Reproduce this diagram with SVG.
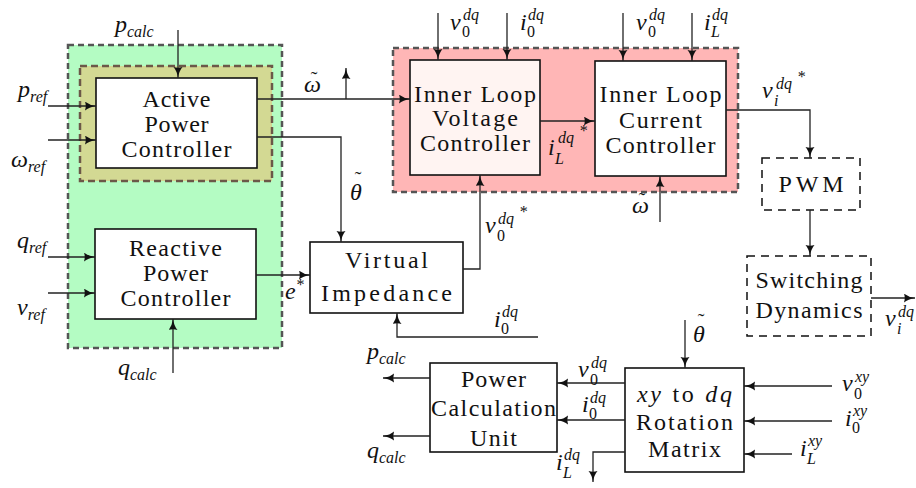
<svg xmlns="http://www.w3.org/2000/svg" width="916" height="488" viewBox="0 0 916 488">
  <style>
    .blk { fill: #ffffff; stroke: #111; stroke-width: 1.6; }
    .dash { fill: #ffffff; stroke: #111; stroke-width: 1.5; stroke-dasharray: 8 6; }
    .lbl { font-family: "Liberation Serif", "DejaVu Serif", serif; font-size: 24px; fill: #111; text-anchor: middle; }
    .m { font-family: "Liberation Serif", "DejaVu Serif", serif; font-style: italic; font-size: 24px; fill: #111; }
    .s { font-size: 16px; }
    .tl { font-size: 20px; font-style: normal; }
    .w { fill: none; stroke: #222; stroke-width: 1.3; }
    .a { marker-end: url(#arr); }
  </style>
  <defs>
    <marker id="arr" markerUnits="userSpaceOnUse" markerWidth="12" markerHeight="10" refX="11" refY="4.5" orient="auto">
      <path d="M0,0 Q4,3.5 11,4.5 Q4,5.5 0,9 Q1.5,4.5 0,0 z" fill="#111"/>
    </marker>
  </defs>

  <rect width="916" height="488" fill="#ffffff"/>

  <!-- grouping regions -->
  <g id="power-sharing">
    <rect x="68" y="45" width="214" height="303" fill="#b4fcc3" stroke="#555" stroke-width="2.5" stroke-dasharray="6 4"/>
    <rect x="80" y="66" width="192" height="115" fill="#d3d993" stroke="#6b5848" stroke-width="2.5" stroke-dasharray="7 4"/>
  </g>
  <g id="inner-loops">
    <rect x="393" y="48" width="345" height="144" fill="#ffb6b6" stroke="#555" stroke-width="2.5" stroke-dasharray="6 4"/>
  </g>

  <!-- blocks -->
  <g id="active-power">
    <rect class="blk" x="96" y="78" width="161" height="90"/>
    <text class="lbl" x="176.5" y="107" textLength="68" lengthAdjust="spacing">Active</text>
    <text class="lbl" x="176.5" y="132" textLength="64" lengthAdjust="spacing">Power</text>
    <text class="lbl" x="176.5" y="157" textLength="110" lengthAdjust="spacing">Controller</text>
  </g>
  <g id="reactive-power">
    <rect class="blk" x="95" y="229" width="161" height="90"/>
    <text class="lbl" x="175.5" y="256" textLength="93" lengthAdjust="spacing">Reactive</text>
    <text class="lbl" x="175.5" y="281" textLength="65" lengthAdjust="spacing">Power</text>
    <text class="lbl" x="175.5" y="306" textLength="110" lengthAdjust="spacing">Controller</text>
  </g>
  <g id="voltage-controller">
    <rect class="blk" x="410" y="60" width="130" height="115" style="fill:#fff4f2"/>
    <text class="lbl" x="475" y="102" textLength="122" lengthAdjust="spacing">Inner Loop</text>
    <text class="lbl" x="475" y="126" textLength="86" lengthAdjust="spacing">Voltage</text>
    <text class="lbl" x="475" y="151" textLength="110" lengthAdjust="spacing">Controller</text>
  </g>
  <g id="current-controller">
    <rect class="blk" x="595" y="61" width="131" height="115"/>
    <text class="lbl" x="660.5" y="102" textLength="122" lengthAdjust="spacing">Inner Loop</text>
    <text class="lbl" x="660.5" y="128" textLength="83" lengthAdjust="spacing">Current</text>
    <text class="lbl" x="660.5" y="153" textLength="110" lengthAdjust="spacing">Controller</text>
  </g>
  <g id="virtual-impedance">
    <rect class="blk" x="310" y="242" width="153" height="71"/>
    <text class="lbl" x="386.5" y="268" textLength="83" lengthAdjust="spacing">Virtual</text>
    <text class="lbl" x="386.5" y="301" textLength="131" lengthAdjust="spacing">Impedance</text>
  </g>
  <g id="pwm">
    <rect class="dash" x="762" y="158" width="98" height="52"/>
    <text class="lbl" x="811" y="192" textLength="65" lengthAdjust="spacing">PWM</text>
  </g>
  <g id="switching">
    <rect class="dash" x="747" y="256" width="124" height="80"/>
    <text class="lbl" x="809" y="288" textLength="107" lengthAdjust="spacing">Switching</text>
    <text class="lbl" x="809" y="318" textLength="107" lengthAdjust="spacing">Dynamics</text>
  </g>
  <g id="power-calculation">
    <rect class="blk" x="430" y="363" width="127" height="89"/>
    <text class="lbl" x="493.5" y="387" textLength="65" lengthAdjust="spacing">Power</text>
    <text class="lbl" x="493.5" y="416" textLength="125" lengthAdjust="spacing">Calculation</text>
    <text class="lbl" x="493.5" y="446" textLength="47" lengthAdjust="spacing">Unit</text>
  </g>
  <g id="rotation-matrix">
    <rect class="blk" x="625" y="368" width="119" height="104"/>
    <text class="lbl" x="684.5" y="402" textLength="95" lengthAdjust="spacing"><tspan font-style="italic">xy</tspan> to <tspan font-style="italic">dq</tspan></text>
    <text class="lbl" x="684.5" y="430" textLength="97" lengthAdjust="spacing">Rotation</text>
    <text class="lbl" x="684.5" y="457" textLength="73" lengthAdjust="spacing">Matrix</text>
  </g>

  <!-- connectors -->
  <g id="connectors">
    <path class="w a" d="M178,30 V78"/>
    <path class="w a" d="M48,106 H96"/>
    <path class="w a" d="M48,140 H96"/>
    <path class="w a" d="M257,99 H410"/>
    <path class="w a" d="M346,99 V68"/>
    <path class="w a" d="M257,137 H341 V242"/>
    <path class="w a" d="M48,257 H95"/>
    <path class="w a" d="M48,293 H95"/>
    <path class="w a" d="M173,373 V319"/>
    <path class="w a" d="M256,275 H310"/>
    <path class="w a" d="M463,269 H480 V175"/>
    <path class="w a" d="M538,337 H397 V313"/>
    <path class="w a" d="M438,13 V60"/>
    <path class="w a" d="M507,13 V60"/>
    <path class="w a" d="M540,121 H595"/>
    <path class="w a" d="M623,13 V61"/>
    <path class="w a" d="M692,13 V61"/>
    <path class="w a" d="M660,222 V176"/>
    <path class="w a" d="M726,110 H810 V158"/>
    <path class="w a" d="M810,210 V256"/>
    <path class="w a" d="M871,298 H915"/>
    <path class="w a" d="M685,320 V368"/>
    <path class="w a" d="M832,386 H744"/>
    <path class="w a" d="M832,421 H744"/>
    <path class="w a" d="M792,454 H744"/>
    <path class="w a" d="M625,383 H557"/>
    <path class="w a" d="M625,420 H557"/>
    <path class="w a" d="M625,452 H593 V482"/>
    <path class="w a" d="M430,378 H383"/>
    <path class="w a" d="M430,436 H383"/>
  </g>

  <!-- signal labels -->
  <g id="labels">
    <text class="m" x="115" y="32">p<tspan class="s" dy="5">calc</tspan></text>
    <text class="m" x="18" y="97">p<tspan class="s" dy="5">ref</tspan></text>
    <text class="m" x="11" y="167">ω<tspan class="s" dy="5">ref</tspan></text>

    <text class="m" x="304" y="92">ω<tspan class="tl" x="310.7" y="86">˜</tspan></text>
    <text class="m" x="350" y="200">θ<tspan class="tl" x="354.7" y="186">˜</tspan></text>
    <text class="m" x="632" y="213">ω<tspan class="tl" x="638.7" y="207">˜</tspan></text>
    <text class="m" x="693" y="342">θ<tspan class="tl" x="697.7" y="328">˜</tspan></text>

    <text class="m" x="17" y="248">q<tspan class="s" dy="5">ref</tspan></text>
    <text class="m" x="17" y="315">v<tspan class="s" dy="5">ref</tspan></text>
    <text class="m" x="118" y="375">q<tspan class="s" dy="5">calc</tspan></text>
    <text class="m" x="285" y="299">e<tspan class="s" dy="-9">*</tspan></text>

    <text class="m" x="450" y="30">v<tspan class="s" x="462" y="37" font-style="normal">0</tspan><tspan class="s" x="463" y="20">dq</tspan></text>
    <text class="m" x="520" y="30">i<tspan class="s" x="527" y="37" font-style="normal">0</tspan><tspan class="s" x="528" y="20">dq</tspan></text>
    <text class="m" x="636" y="30">v<tspan class="s" x="648" y="37" font-style="normal">0</tspan><tspan class="s" x="649" y="20">dq</tspan></text>
    <text class="m" x="704" y="30">i<tspan class="s" x="711" y="37">L</tspan><tspan class="s" x="712" y="20">dq</tspan></text>

    <text class="m" x="548" y="155">i<tspan class="s" x="555" y="164">L</tspan><tspan class="s" x="558" y="143">dq</tspan><tspan class="s" x="579" y="136" font-size="13">*</tspan></text>
    <text class="m" x="762" y="98">v<tspan class="s" x="774" y="106">i</tspan><tspan class="s" x="776" y="89">dq</tspan><tspan class="s" x="797" y="82" font-size="13">*</tspan></text>
    <text class="m" x="485" y="233">v<tspan class="s" x="497" y="241" font-style="normal">0</tspan><tspan class="s" x="498" y="224">dq</tspan><tspan class="s" x="519" y="217" font-size="13">*</tspan></text>
    <text class="m" x="494" y="327">i<tspan class="s" x="501" y="334" font-style="normal">0</tspan><tspan class="s" x="502" y="317">dq</tspan></text>
    <text class="m" x="885" y="326">v<tspan class="s" x="897" y="334">i</tspan><tspan class="s" x="898" y="317">dq</tspan></text>

    <text class="m" x="367" y="359">p<tspan class="s" dy="5">calc</tspan></text>
    <text class="m" x="367" y="458">q<tspan class="s" dy="5">calc</tspan></text>
    <text class="m" x="578" y="377">v<tspan class="s" x="590" y="385" font-style="normal">0</tspan><tspan class="s" x="591" y="368">dq</tspan></text>
    <text class="m" x="582" y="412">i<tspan class="s" x="589" y="419" font-style="normal">0</tspan><tspan class="s" x="590" y="403">dq</tspan></text>
    <text class="m" x="556" y="470">i<tspan class="s" x="563" y="478">L</tspan><tspan class="s" x="564" y="460">dq</tspan></text>
    <text class="m" x="842" y="391">v<tspan class="s" x="854" y="399" font-style="normal">0</tspan><tspan class="s" x="855" y="382">xy</tspan></text>
    <text class="m" x="845" y="426">i<tspan class="s" x="852" y="433" font-style="normal">0</tspan><tspan class="s" x="853" y="416">xy</tspan></text>
    <text class="m" x="800" y="456">i<tspan class="s" x="807" y="464">L</tspan><tspan class="s" x="808" y="446">xy</tspan></text>
  </g>
</svg>
